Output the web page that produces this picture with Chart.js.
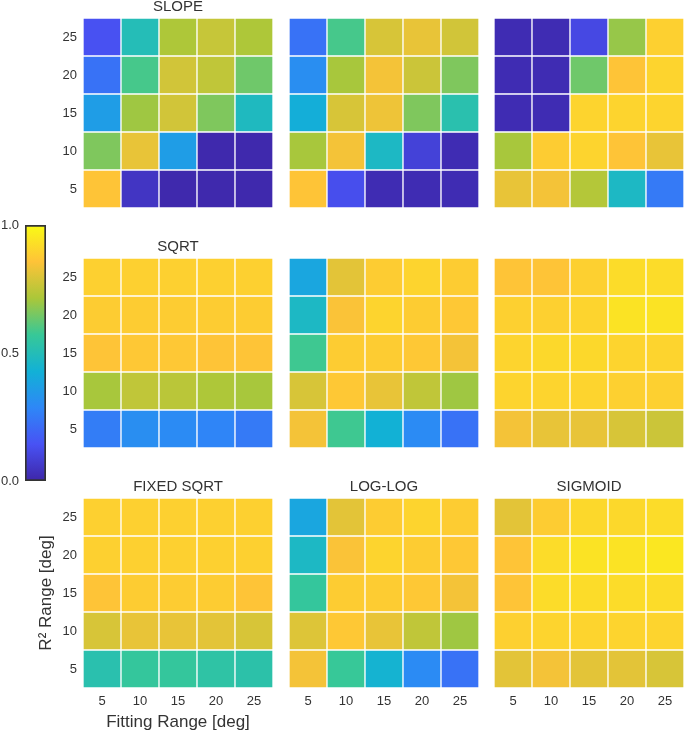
<!DOCTYPE html>
<html>
<head>
<meta charset="utf-8">
<script src="https://cdn.jsdelivr.net/npm/chart.js@4.4.1/dist/chart.umd.min.js"></script>
<style>
    body { margin: 0; background: #fff; width: 685px; height: 734px; overflow: hidden; position: relative; }
    canvas { position: absolute; }
</style>
</head>
<body>
<script>
// axis categories (deg)
const fittingRange = [5, 10, 15, 20, 25];
const r2Range = [5, 10, 15, 20, 25];
const colorTicks = [0, 0.5, 1];

// each panel: rows listed top (R2 = 25) to bottom (R2 = 5), columns by fitting range
const slope = [
    [0.14, 0.50, 0.72, 0.76, 0.72],
    [0.23, 0.59, 0.78, 0.75, 0.64],
    [0.36, 0.70, 0.78, 0.66, 0.48],
    [0.66, 0.82, 0.36, 0.01, 0.01],
    [0.86, 0.05, 0.01, 0.01, 0.01],
];
const slopeB = [
    [0.23, 0.59, 0.79, 0.82, 0.78],
    [0.31, 0.71, 0.84, 0.77, 0.66],
    [0.42, 0.79, 0.83, 0.66, 0.52],
    [0.71, 0.84, 0.47, 0.09, 0.02],
    [0.86, 0.13, 0.02, 0.02, 0.02],
];
const slopeC = [
    [0.02, 0.02, 0.11, 0.69, 0.89],
    [0.02, 0.02, 0.64, 0.86, 0.90],
    [0.02, 0.02, 0.90, 0.90, 0.90],
    [0.71, 0.88, 0.90, 0.86, 0.82],
    [0.82, 0.84, 0.73, 0.47, 0.25],
];
const sqrtFit = [
    [0.89, 0.89, 0.89, 0.89, 0.89],
    [0.88, 0.88, 0.88, 0.88, 0.88],
    [0.86, 0.87, 0.87, 0.86, 0.86],
    [0.71, 0.75, 0.74, 0.72, 0.71],
    [0.26, 0.31, 0.30, 0.28, 0.25],
];
const sqrtB = [
    [0.39, 0.81, 0.88, 0.90, 0.88],
    [0.47, 0.85, 0.90, 0.88, 0.87],
    [0.58, 0.88, 0.88, 0.87, 0.84],
    [0.79, 0.87, 0.82, 0.75, 0.70],
    [0.84, 0.58, 0.43, 0.30, 0.23],
];
const sqrtC = [
    [0.86, 0.86, 0.89, 0.92, 0.92],
    [0.89, 0.89, 0.90, 0.94, 0.94],
    [0.90, 0.91, 0.91, 0.90, 0.90],
    [0.90, 0.90, 0.90, 0.89, 0.89],
    [0.84, 0.82, 0.82, 0.79, 0.77],
];
const fixedSqrt = [
    [0.89, 0.89, 0.89, 0.89, 0.89],
    [0.89, 0.89, 0.89, 0.89, 0.89],
    [0.86, 0.88, 0.88, 0.88, 0.86],
    [0.79, 0.82, 0.82, 0.81, 0.79],
    [0.52, 0.56, 0.56, 0.54, 0.53],
];
const logLog = [
    [0.39, 0.81, 0.88, 0.90, 0.88],
    [0.47, 0.85, 0.90, 0.88, 0.87],
    [0.56, 0.88, 0.88, 0.87, 0.84],
    [0.80, 0.87, 0.82, 0.75, 0.70],
    [0.84, 0.57, 0.44, 0.30, 0.23],
];
const sigmoid = [
    [0.81, 0.88, 0.91, 0.91, 0.92],
    [0.86, 0.92, 0.94, 0.94, 0.95],
    [0.86, 0.92, 0.92, 0.92, 0.92],
    [0.89, 0.90, 0.90, 0.90, 0.90],
    [0.81, 0.84, 0.81, 0.81, 0.79],
];

// parula colormap, 8 evenly spaced stops
const parula = [
    [62, 38, 168], [72, 82, 244], [46, 135, 247], [18, 177, 214],
    [55, 200, 151], [171, 199, 57], [254, 195, 56], [249, 251, 21],
];

const FONT = '"Liberation Sans", Arial, sans-serif';
const TEXT = "#333";

function colorFor(v) {
    const t = Math.max(0, Math.min(1, v)) * (parula.length - 1);
    const i = Math.min(parula.length - 2, Math.floor(t));
    const f = t - i;
    const c = parula[i].map((a, k) => Math.round(a + (parula[i + 1][k] - a) * f));
    return `rgb(${c[0]}, ${c[1]}, ${c[2]})`;
}

// title above the plotting area, centred on the cells rather than the canvas
const panelTitle = {
    id: "panelTitle",
    afterDraw(chart, args, opts) {
        if (!opts.text) return;
        const { ctx, chartArea } = chart;
        ctx.save();
        ctx.font = `15px ${FONT}`;
        ctx.fillStyle = TEXT;
        ctx.textAlign = "center";
        ctx.textBaseline = "middle";
        ctx.fillText(opts.text, (chartArea.left + chartArea.right) / 2, chartArea.top - 11);
        ctx.restore();
    },
};

// labels never reach the canvas edge here, so drop the scale's label overflow padding
function noOverflow(s) {
    s.paddingTop = 0;
    s.paddingBottom = 0;
    s.paddingLeft = 0;
    s.paddingRight = 0;
}

function makeCanvas(left, top, width, height) {
    const c = document.createElement("canvas");
    c.width = width;
    c.height = height;
    c.style.left = left + "px";
    c.style.top = top + "px";
    document.body.appendChild(c);
    return c;
}

const colX = [83, 289, 494];
const rowY = [18, 258, 498];
const SIZE = 190;
const Y_AXIS_W = 53;
const X_AXIS_H = 46;

function renderPanel(values, col, row, title) {
    const leftCol = col === 0;
    const bottomRow = row === 2;
    const left = leftCol ? colX[col] - Y_AXIS_W : colX[col];
    const width = SIZE + (leftCol ? Y_AXIS_W : 0);
    const height = 20 + SIZE + (bottomRow ? X_AXIS_H : 0);
    const canvas = makeCanvas(left, rowY[row] - 20, width, height);

    // one floating bar per cell: rows become datasets, spanning +-2.5 deg
    const rowsBottomUp = values.slice().reverse();
    const datasets = r2Range.map((r, i) => ({
        data: fittingRange.map(() => [r - 2.5, r + 2.5]),
        backgroundColor: rowsBottomUp[i].map(colorFor),
        borderColor: "#fff",
        borderWidth: 1,
        borderSkipped: false,
        grouped: false,
        barPercentage: 1,
        categoryPercentage: 1,
    }));

    new Chart(canvas, {
        type: "bar",
        data: { labels: fittingRange.map(String), datasets },
        plugins: [panelTitle],
        options: {
            responsive: false,
            animation: false,
            layout: { padding: { top: 20 } },
            plugins: {
                legend: { display: false },
                tooltip: { enabled: false },
                panelTitle: { text: title },
            },
            scales: {
                x: {
                    display: bottomRow,
                    grid: { display: false, drawTicks: false },
                    border: { display: false },
                    ticks: { color: TEXT, font: { family: FONT, size: 13 }, padding: 6, maxRotation: 0 },
                    title: {
                        display: bottomRow && leftCol,
                        text: "Fitting Range [deg]",
                        color: TEXT,
                        font: { family: FONT, size: 17 },
                        padding: { top: 0, bottom: 1 },
                    },
                    afterFit: s => {
                        noOverflow(s);
                        if (bottomRow) s.height = X_AXIS_H;
                    },
                },
                y: {
                    display: leftCol,
                    min: 2.5,
                    max: 27.5,
                    grid: { display: false, drawTicks: false },
                    border: { display: false },
                    ticks: { color: TEXT, font: { family: FONT, size: 13 }, padding: 6 },
                    afterBuildTicks: s => { s.ticks = r2Range.map(v => ({ value: v })); },
                    title: {
                        display: bottomRow && leftCol,
                        text: "R\u00B2 Range [deg]",
                        color: TEXT,
                        font: { family: FONT, size: 17 },
                        padding: { top: 6, bottom: 0 },
                    },
                    afterFit: s => {
                        noOverflow(s);
                        if (leftCol) s.width = Y_AXIS_W;
                    },
                },
            },
        },
    });
}

function renderColorbar() {
    const canvas = makeCanvas(0, 215, 50, 275);
    new Chart(canvas, {
        type: "bar",
        data: {
            labels: ["c"],
            datasets: [{
                data: [[0, 1]],
                backgroundColor: c => {
                    const a = c.chart.chartArea;
                    if (!a) return "#888";
                    const g = c.chart.ctx.createLinearGradient(0, a.bottom, 0, a.top);
                    parula.forEach((p, i) => g.addColorStop(i / (parula.length - 1), `rgb(${p.join(",")})`));
                    return g;
                },
                borderColor: "#333",
                borderWidth: 2,
                borderSkipped: false,
                barPercentage: 1,
                categoryPercentage: 1,
            }],
        },
        options: {
            responsive: false,
            animation: false,
            layout: { padding: { top: 10, bottom: 9, right: 4 } },
            plugins: { legend: { display: false }, tooltip: { enabled: false } },
            scales: {
                x: { display: false, afterFit: noOverflow },
                y: {
                    min: 0,
                    max: 1,
                    grid: { display: false, drawTicks: false },
                    border: { display: false },
                    ticks: {
                        color: TEXT,
                        font: { family: FONT, size: 13 },
                        padding: 6,
                        callback: v => Number(v).toFixed(1),
                    },
                    afterBuildTicks: s => { s.ticks = colorTicks.map(v => ({ value: v })); },
                    afterFit: s => {
                        noOverflow(s);
                        s.width = 25;
                    },
                },
            },
        },
    });
}

renderPanel(slope, 0, 0, "SLOPE");
renderPanel(slopeB, 1, 0, "");
renderPanel(slopeC, 2, 0, "");
renderPanel(sqrtFit, 0, 1, "SQRT");
renderPanel(sqrtB, 1, 1, "");
renderPanel(sqrtC, 2, 1, "");
renderPanel(fixedSqrt, 0, 2, "FIXED SQRT");
renderPanel(logLog, 1, 2, "LOG-LOG");
renderPanel(sigmoid, 2, 2, "SIGMOID");
renderColorbar();
</script>
</body>
</html>
